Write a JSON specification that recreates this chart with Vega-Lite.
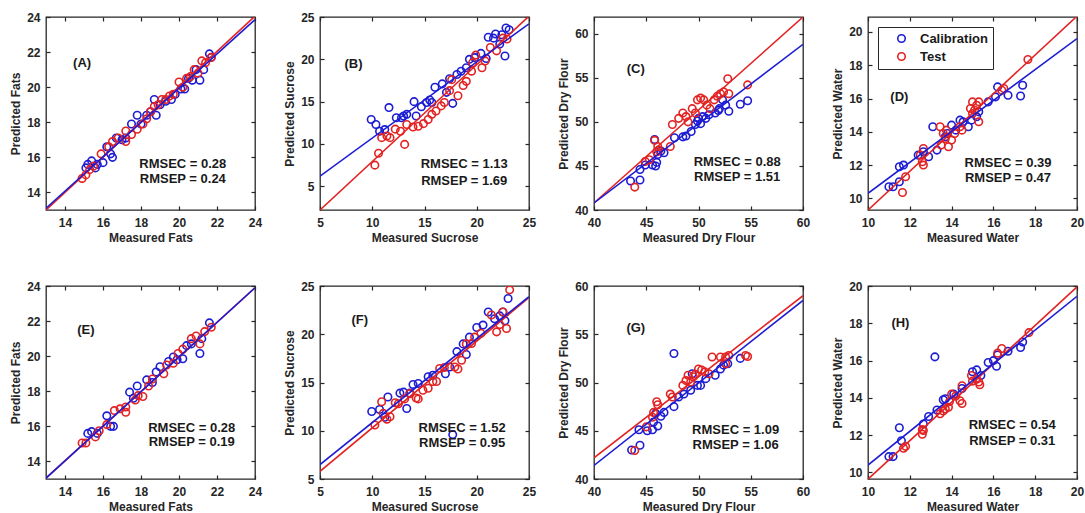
{
"$schema": "https://vega.github.io/schema/vega-lite/v6.json",
"background": "white",
"padding": {"left": 9, "top": 10, "right": 0, "bottom": 0},
"columns": 4,
"spacing": {"row": 76, "column": 65},
"bounds": "flush",
"resolve": {"scale": {"stroke": "independent", "color": "independent"}, "legend": {"stroke": "independent", "color": "independent"}},
"concat": [
{"width": 209, "height": 193, "resolve": {"axis": {"x": "independent", "y": "independent"}}, "layer": [
 {"data": {"name": "pts"}, "transform": [{"filter": "datum.p === 'A'"}], "mark": {"type": "point", "filled": false, "size": 56, "strokeWidth": 1.6, "opacity": 1, "clip": true},
  "encoding": {"x": {"field": "x", "type": "quantitative", "scale": {"domain": [13, 24], "nice": false, "zero": false}, "axis": {"title": "Measured Fats", "values": [14, 16, 18, 20, 22, 24]}},
   "y": {"field": "y", "type": "quantitative", "scale": {"domain": [13, 24], "nice": false, "zero": false}, "axis": {"title": "Predicted Fats", "values": [14, 16, 18, 20, 22, 24]}},
   "stroke": {"field": "s", "type": "nominal", "scale": {"domain": ["Calibration", "Test"], "range": ["#1c1cd4", "#e32222"]}, "legend": null}}},
 {"data": {"name": "lns"}, "transform": [{"filter": "datum.p === 'A'"}], "mark": {"type": "line", "strokeWidth": 1.6, "clip": true},
  "encoding": {"x": {"field": "x", "type": "quantitative", "axis": null}, "y": {"field": "y", "type": "quantitative", "axis": null},
   "color": {"field": "s", "type": "nominal", "scale": {"domain": ["Test", "Calibration"], "range": ["#e32222", "#1c1cd4"]}, "legend": null}}},
 {"data": {"name": "txt"}, "transform": [{"filter": "datum.p === 'A'"}], "mark": {"type": "text", "font": "Liberation Sans", "fontWeight": "bold", "fontSize": 13, "color": "#1a1a1a"},
  "encoding": {"x": {"field": "x", "type": "quantitative", "axis": {"orient": "top", "labels": false, "title": null, "values": [14, 16, 18, 20, 22, 24]}},
   "y": {"field": "y", "type": "quantitative", "axis": {"orient": "right", "labels": false, "title": null, "values": [14, 16, 18, 20, 22, 24]}},
   "text": {"field": "t"}}}
]},
{"width": 209, "height": 193, "resolve": {"axis": {"x": "independent", "y": "independent"}}, "layer": [
 {"data": {"name": "pts"}, "transform": [{"filter": "datum.p === 'B'"}], "mark": {"type": "point", "filled": false, "size": 56, "strokeWidth": 1.6, "opacity": 1, "clip": true},
  "encoding": {"x": {"field": "x", "type": "quantitative", "scale": {"domain": [5, 25], "nice": false, "zero": false}, "axis": {"title": "Measured Sucrose", "values": [5, 10, 15, 20, 25]}},
   "y": {"field": "y", "type": "quantitative", "scale": {"domain": [2.2, 25], "nice": false, "zero": false}, "axis": {"title": "Predicted  Sucrose", "values": [5, 10, 15, 20, 25]}},
   "stroke": {"field": "s", "type": "nominal", "scale": {"domain": ["Calibration", "Test"], "range": ["#1c1cd4", "#e32222"]}, "legend": null}}},
 {"data": {"name": "lns"}, "transform": [{"filter": "datum.p === 'B'"}], "mark": {"type": "line", "strokeWidth": 1.6, "clip": true},
  "encoding": {"x": {"field": "x", "type": "quantitative", "axis": null}, "y": {"field": "y", "type": "quantitative", "axis": null},
   "color": {"field": "s", "type": "nominal", "scale": {"domain": ["Test", "Calibration"], "range": ["#e32222", "#1c1cd4"]}, "legend": null}}},
 {"data": {"name": "txt"}, "transform": [{"filter": "datum.p === 'B'"}], "mark": {"type": "text", "font": "Liberation Sans", "fontWeight": "bold", "fontSize": 13, "color": "#1a1a1a"},
  "encoding": {"x": {"field": "x", "type": "quantitative", "axis": {"orient": "top", "labels": false, "title": null, "values": [5, 10, 15, 20, 25]}},
   "y": {"field": "y", "type": "quantitative", "axis": {"orient": "right", "labels": false, "title": null, "values": [5, 10, 15, 20, 25]}},
   "text": {"field": "t"}}}
]},
{"width": 209, "height": 193, "resolve": {"axis": {"x": "independent", "y": "independent"}}, "layer": [
 {"data": {"name": "pts"}, "transform": [{"filter": "datum.p === 'C'"}], "mark": {"type": "point", "filled": false, "size": 56, "strokeWidth": 1.6, "opacity": 1, "clip": true},
  "encoding": {"x": {"field": "x", "type": "quantitative", "scale": {"domain": [40, 60], "nice": false, "zero": false}, "axis": {"title": "Measured Dry Flour", "values": [40, 45, 50, 55, 60]}},
   "y": {"field": "y", "type": "quantitative", "scale": {"domain": [40, 61.9], "nice": false, "zero": false}, "axis": {"title": "Predicted Dry Flour", "values": [40, 45, 50, 55, 60]}},
   "stroke": {"field": "s", "type": "nominal", "scale": {"domain": ["Calibration", "Test"], "range": ["#1c1cd4", "#e32222"]}, "legend": null}}},
 {"data": {"name": "lns"}, "transform": [{"filter": "datum.p === 'C'"}], "mark": {"type": "line", "strokeWidth": 1.6, "clip": true},
  "encoding": {"x": {"field": "x", "type": "quantitative", "axis": null}, "y": {"field": "y", "type": "quantitative", "axis": null},
   "color": {"field": "s", "type": "nominal", "scale": {"domain": ["Test", "Calibration"], "range": ["#e32222", "#1c1cd4"]}, "legend": null}}},
 {"data": {"name": "txt"}, "transform": [{"filter": "datum.p === 'C'"}], "mark": {"type": "text", "font": "Liberation Sans", "fontWeight": "bold", "fontSize": 13, "color": "#1a1a1a"},
  "encoding": {"x": {"field": "x", "type": "quantitative", "axis": {"orient": "top", "labels": false, "title": null, "values": [40, 45, 50, 55, 60]}},
   "y": {"field": "y", "type": "quantitative", "axis": {"orient": "right", "labels": false, "title": null, "values": [40, 45, 50, 55, 60]}},
   "text": {"field": "t"}}}
]},
{"width": 209, "height": 193, "resolve": {"axis": {"x": "independent", "y": "independent"}}, "layer": [
 {"data": {"name": "pts"}, "transform": [{"filter": "datum.p === 'D'"}], "mark": {"type": "point", "filled": false, "size": 56, "strokeWidth": 1.6, "opacity": 1, "clip": true},
  "encoding": {"x": {"field": "x", "type": "quantitative", "scale": {"domain": [10, 20], "nice": false, "zero": false}, "axis": {"title": "Measured Water", "values": [10, 12, 14, 16, 18, 20]}},
   "y": {"field": "y", "type": "quantitative", "scale": {"domain": [9.3, 20.9], "nice": false, "zero": false}, "axis": {"title": "Predicted Water", "values": [10, 12, 14, 16, 18, 20]}},
   "stroke": {"field": "s", "type": "nominal", "scale": {"domain": ["Calibration", "Test"], "range": ["#1c1cd4", "#e32222"]},
    "legend": {"title": null, "orient": "top-left", "offset": 10, "padding": 5, "strokeColor": "#262626", "fillColor": "white", "labelFont": "Liberation Sans", "labelFontWeight": "bold", "labelFontSize": 13, "labelColor": "#1a1a1a", "symbolSize": 56, "symbolStrokeWidth": 1.6, "symbolOffset": 12, "labelOffset": 12, "rowPadding": 3}}}},
 {"data": {"name": "lns"}, "transform": [{"filter": "datum.p === 'D'"}], "mark": {"type": "line", "strokeWidth": 1.6, "clip": true},
  "encoding": {"x": {"field": "x", "type": "quantitative", "axis": null}, "y": {"field": "y", "type": "quantitative", "axis": null},
   "color": {"field": "s", "type": "nominal", "scale": {"domain": ["Test", "Calibration"], "range": ["#e32222", "#1c1cd4"]}, "legend": null}}},
 {"data": {"name": "txt"}, "transform": [{"filter": "datum.p === 'D'"}], "mark": {"type": "text", "font": "Liberation Sans", "fontWeight": "bold", "fontSize": 13, "color": "#1a1a1a"},
  "encoding": {"x": {"field": "x", "type": "quantitative", "axis": {"orient": "top", "labels": false, "title": null, "values": [10, 12, 14, 16, 18, 20]}},
   "y": {"field": "y", "type": "quantitative", "axis": {"orient": "right", "labels": false, "title": null, "values": [10, 12, 14, 16, 18, 20]}},
   "text": {"field": "t"}}}
]},
{"width": 209, "height": 193, "resolve": {"axis": {"x": "independent", "y": "independent"}}, "layer": [
 {"data": {"name": "pts"}, "transform": [{"filter": "datum.p === 'E'"}], "mark": {"type": "point", "filled": false, "size": 56, "strokeWidth": 1.6, "opacity": 1, "clip": true},
  "encoding": {"x": {"field": "x", "type": "quantitative", "scale": {"domain": [13, 24], "nice": false, "zero": false}, "axis": {"title": "Measured Fats", "values": [14, 16, 18, 20, 22, 24]}},
   "y": {"field": "y", "type": "quantitative", "scale": {"domain": [13, 24], "nice": false, "zero": false}, "axis": {"title": "Predicted Fats", "values": [14, 16, 18, 20, 22, 24]}},
   "stroke": {"field": "s", "type": "nominal", "scale": {"domain": ["Calibration", "Test"], "range": ["#1c1cd4", "#e32222"]}, "legend": null}}},
 {"data": {"name": "lns"}, "transform": [{"filter": "datum.p === 'E'"}], "mark": {"type": "line", "strokeWidth": 1.6, "clip": true},
  "encoding": {"x": {"field": "x", "type": "quantitative", "axis": null}, "y": {"field": "y", "type": "quantitative", "axis": null},
   "color": {"field": "s", "type": "nominal", "scale": {"domain": ["Test", "Calibration"], "range": ["#e32222", "#1c1cd4"]}, "legend": null}}},
 {"data": {"name": "txt"}, "transform": [{"filter": "datum.p === 'E'"}], "mark": {"type": "text", "font": "Liberation Sans", "fontWeight": "bold", "fontSize": 13, "color": "#1a1a1a"},
  "encoding": {"x": {"field": "x", "type": "quantitative", "axis": {"orient": "top", "labels": false, "title": null, "values": [14, 16, 18, 20, 22, 24]}},
   "y": {"field": "y", "type": "quantitative", "axis": {"orient": "right", "labels": false, "title": null, "values": [14, 16, 18, 20, 22, 24]}},
   "text": {"field": "t"}}}
]},
{"width": 209, "height": 193, "resolve": {"axis": {"x": "independent", "y": "independent"}}, "layer": [
 {"data": {"name": "pts"}, "transform": [{"filter": "datum.p === 'F'"}], "mark": {"type": "point", "filled": false, "size": 56, "strokeWidth": 1.6, "opacity": 1, "clip": true},
  "encoding": {"x": {"field": "x", "type": "quantitative", "scale": {"domain": [5, 25], "nice": false, "zero": false}, "axis": {"title": "Measured Sucrose", "values": [5, 10, 15, 20, 25]}},
   "y": {"field": "y", "type": "quantitative", "scale": {"domain": [5, 25], "nice": false, "zero": false}, "axis": {"title": "Predicted  Sucrose", "values": [5, 10, 15, 20, 25]}},
   "stroke": {"field": "s", "type": "nominal", "scale": {"domain": ["Calibration", "Test"], "range": ["#1c1cd4", "#e32222"]}, "legend": null}}},
 {"data": {"name": "lns"}, "transform": [{"filter": "datum.p === 'F'"}], "mark": {"type": "line", "strokeWidth": 1.6, "clip": true},
  "encoding": {"x": {"field": "x", "type": "quantitative", "axis": null}, "y": {"field": "y", "type": "quantitative", "axis": null},
   "color": {"field": "s", "type": "nominal", "scale": {"domain": ["Test", "Calibration"], "range": ["#e32222", "#1c1cd4"]}, "legend": null}}},
 {"data": {"name": "txt"}, "transform": [{"filter": "datum.p === 'F'"}], "mark": {"type": "text", "font": "Liberation Sans", "fontWeight": "bold", "fontSize": 13, "color": "#1a1a1a"},
  "encoding": {"x": {"field": "x", "type": "quantitative", "axis": {"orient": "top", "labels": false, "title": null, "values": [5, 10, 15, 20, 25]}},
   "y": {"field": "y", "type": "quantitative", "axis": {"orient": "right", "labels": false, "title": null, "values": [5, 10, 15, 20, 25]}},
   "text": {"field": "t"}}}
]},
{"width": 209, "height": 193, "resolve": {"axis": {"x": "independent", "y": "independent"}}, "layer": [
 {"data": {"name": "pts"}, "transform": [{"filter": "datum.p === 'G'"}], "mark": {"type": "point", "filled": false, "size": 56, "strokeWidth": 1.6, "opacity": 1, "clip": true},
  "encoding": {"x": {"field": "x", "type": "quantitative", "scale": {"domain": [40, 60], "nice": false, "zero": false}, "axis": {"title": "Measured Dry Flour", "values": [40, 45, 50, 55, 60]}},
   "y": {"field": "y", "type": "quantitative", "scale": {"domain": [40, 60], "nice": false, "zero": false}, "axis": {"title": "Predicted Dry Flour", "values": [40, 45, 50, 55, 60]}},
   "stroke": {"field": "s", "type": "nominal", "scale": {"domain": ["Calibration", "Test"], "range": ["#1c1cd4", "#e32222"]}, "legend": null}}},
 {"data": {"name": "lns"}, "transform": [{"filter": "datum.p === 'G'"}], "mark": {"type": "line", "strokeWidth": 1.6, "clip": true},
  "encoding": {"x": {"field": "x", "type": "quantitative", "axis": null}, "y": {"field": "y", "type": "quantitative", "axis": null},
   "color": {"field": "s", "type": "nominal", "scale": {"domain": ["Test", "Calibration"], "range": ["#e32222", "#1c1cd4"]}, "legend": null}}},
 {"data": {"name": "txt"}, "transform": [{"filter": "datum.p === 'G'"}], "mark": {"type": "text", "font": "Liberation Sans", "fontWeight": "bold", "fontSize": 13, "color": "#1a1a1a"},
  "encoding": {"x": {"field": "x", "type": "quantitative", "axis": {"orient": "top", "labels": false, "title": null, "values": [40, 45, 50, 55, 60]}},
   "y": {"field": "y", "type": "quantitative", "axis": {"orient": "right", "labels": false, "title": null, "values": [40, 45, 50, 55, 60]}},
   "text": {"field": "t"}}}
]},
{"width": 209, "height": 193, "resolve": {"axis": {"x": "independent", "y": "independent"}}, "layer": [
 {"data": {"name": "pts"}, "transform": [{"filter": "datum.p === 'H'"}], "mark": {"type": "point", "filled": false, "size": 56, "strokeWidth": 1.6, "opacity": 1, "clip": true},
  "encoding": {"x": {"field": "x", "type": "quantitative", "scale": {"domain": [10, 20], "nice": false, "zero": false}, "axis": {"title": "Measured Water", "values": [10, 12, 14, 16, 18, 20]}},
   "y": {"field": "y", "type": "quantitative", "scale": {"domain": [9.65, 20], "nice": false, "zero": false}, "axis": {"title": "Predicted Water", "values": [10, 12, 14, 16, 18, 20]}},
   "stroke": {"field": "s", "type": "nominal", "scale": {"domain": ["Calibration", "Test"], "range": ["#1c1cd4", "#e32222"]}, "legend": null}}},
 {"data": {"name": "lns"}, "transform": [{"filter": "datum.p === 'H'"}], "mark": {"type": "line", "strokeWidth": 1.6, "clip": true},
  "encoding": {"x": {"field": "x", "type": "quantitative", "axis": null}, "y": {"field": "y", "type": "quantitative", "axis": null},
   "color": {"field": "s", "type": "nominal", "scale": {"domain": ["Test", "Calibration"], "range": ["#e32222", "#1c1cd4"]}, "legend": null}}},
 {"data": {"name": "txt"}, "transform": [{"filter": "datum.p === 'H'"}], "mark": {"type": "text", "font": "Liberation Sans", "fontWeight": "bold", "fontSize": 13, "color": "#1a1a1a"},
  "encoding": {"x": {"field": "x", "type": "quantitative", "axis": {"orient": "top", "labels": false, "title": null, "values": [10, 12, 14, 16, 18, 20]}},
   "y": {"field": "y", "type": "quantitative", "axis": {"orient": "right", "labels": false, "title": null, "values": [10, 12, 14, 16, 18, 20]}},
   "text": {"field": "t"}}}
]}
],
"datasets": {
"lns": [
{"p":"A","s":"Test","x":13,"y":13.0},{"p":"A","s":"Test","x":24,"y":24.05},{"p":"A","s":"Calibration","x":13,"y":13.1},{"p":"A","s":"Calibration","x":24,"y":23.85},
{"p":"B","s":"Test","x":5,"y":2.2},{"p":"B","s":"Test","x":25,"y":25.1},{"p":"B","s":"Calibration","x":5,"y":6.2},{"p":"B","s":"Calibration","x":25,"y":24.2},
{"p":"C","s":"Test","x":40,"y":40.8},{"p":"C","s":"Test","x":60,"y":61.9},{"p":"C","s":"Calibration","x":40,"y":40.8},{"p":"C","s":"Calibration","x":60,"y":58.8},
{"p":"D","s":"Test","x":10,"y":9.3},{"p":"D","s":"Test","x":20,"y":20.95},{"p":"D","s":"Calibration","x":10,"y":10.3},{"p":"D","s":"Calibration","x":20,"y":19.6},
{"p":"E","s":"Test","x":13,"y":13.05},{"p":"E","s":"Test","x":24,"y":23.9},{"p":"E","s":"Calibration","x":13,"y":13.05},{"p":"E","s":"Calibration","x":24,"y":23.9},
{"p":"F","s":"Test","x":5,"y":5.8},{"p":"F","s":"Test","x":25,"y":23.8},{"p":"F","s":"Calibration","x":5,"y":6.5},{"p":"F","s":"Calibration","x":25,"y":23.9},
{"p":"G","s":"Test","x":40,"y":42.2},{"p":"G","s":"Test","x":60,"y":59.0},{"p":"G","s":"Calibration","x":40,"y":41.4},{"p":"G","s":"Calibration","x":60,"y":58.5},
{"p":"H","s":"Test","x":10,"y":9.64},{"p":"H","s":"Test","x":20,"y":19.95},{"p":"H","s":"Calibration","x":10,"y":10.4},{"p":"H","s":"Calibration","x":20,"y":19.45}
],
"txt": [
{"p":"A","x":14.9,"y":21.4,"t":"(A)"},{"p":"A","x":20.2,"y":15.6,"t":"RMSEC = 0.28"},{"p":"A","x":20.2,"y":14.75,"t":"RMSEP = 0.24"},
{"p":"B","x":8.2,"y":19.5,"t":"(B)"},{"p":"B","x":18.8,"y":7.6,"t":"RMSEC = 1.13"},{"p":"B","x":18.8,"y":5.6,"t":"RMSEP = 1.69"},
{"p":"C","x":44.0,"y":56.05,"t":"(C)"},{"p":"C","x":53.7,"y":45.5,"t":"RMSEC = 0.88"},{"p":"C","x":53.7,"y":43.8,"t":"RMSEP = 1.51"},
{"p":"D","x":11.5,"y":16.1,"t":"(D)"},{"p":"D","x":16.7,"y":12.1,"t":"RMSEC = 0.39"},{"p":"D","x":16.7,"y":11.25,"t":"RMSEP = 0.47"},
{"p":"E","x":15.1,"y":21.5,"t":"(E)"},{"p":"E","x":20.67,"y":15.9,"t":"RMSEC = 0.28"},{"p":"E","x":20.67,"y":15.1,"t":"RMSEP = 0.19"},
{"p":"F","x":8.8,"y":21.5,"t":"(F)"},{"p":"F","x":18.6,"y":10.3,"t":"RMSEC = 1.52"},{"p":"F","x":18.6,"y":8.7,"t":"RMSEP = 0.95"},
{"p":"G","x":44.0,"y":55.6,"t":"(G)"},{"p":"G","x":53.55,"y":45.1,"t":"RMSEC = 1.09"},{"p":"G","x":53.55,"y":43.5,"t":"RMSEP = 1.06"},
{"p":"H","x":11.55,"y":18.0,"t":"(H)"},{"p":"H","x":16.9,"y":12.55,"t":"RMSEC = 0.54"},{"p":"H","x":16.9,"y":11.7,"t":"RMSEP = 0.31"}
],
"pts": [
{"p":"A","s":"Calibration","x":15.1,"y":15.4},{"p":"A","s":"Calibration","x":15.2,"y":15.6},{"p":"A","s":"Calibration","x":15.4,"y":15.8},{"p":"A","s":"Calibration","x":15.6,"y":15.4},{"p":"A","s":"Calibration","x":15.7,"y":15.6},{"p":"A","s":"Calibration","x":16.0,"y":15.7},{"p":"A","s":"Calibration","x":16.2,"y":16.6},{"p":"A","s":"Calibration","x":16.4,"y":16.2},{"p":"A","s":"Calibration","x":16.5,"y":16.0},{"p":"A","s":"Calibration","x":16.7,"y":17.1},{"p":"A","s":"Calibration","x":17.0,"y":17.0},{"p":"A","s":"Calibration","x":17.2,"y":17.1},{"p":"A","s":"Calibration","x":17.5,"y":17.9},{"p":"A","s":"Calibration","x":17.8,"y":18.4},{"p":"A","s":"Calibration","x":18.0,"y":17.9},{"p":"A","s":"Calibration","x":18.3,"y":18.4},{"p":"A","s":"Calibration","x":18.5,"y":18.6},{"p":"A","s":"Calibration","x":18.7,"y":19.3},{"p":"A","s":"Calibration","x":18.8,"y":18.4},{"p":"A","s":"Calibration","x":19.0,"y":19.0},{"p":"A","s":"Calibration","x":19.3,"y":19.2},{"p":"A","s":"Calibration","x":19.6,"y":19.3},{"p":"A","s":"Calibration","x":19.8,"y":19.6},{"p":"A","s":"Calibration","x":20.1,"y":19.9},{"p":"A","s":"Calibration","x":20.3,"y":19.9},{"p":"A","s":"Calibration","x":20.5,"y":20.5},{"p":"A","s":"Calibration","x":20.7,"y":20.4},{"p":"A","s":"Calibration","x":20.9,"y":21.0},{"p":"A","s":"Calibration","x":21.1,"y":20.4},{"p":"A","s":"Calibration","x":21.3,"y":21.0},{"p":"A","s":"Calibration","x":21.6,"y":21.9},{"p":"A","s":"Calibration","x":21.7,"y":21.7},
{"p":"A","s":"Test","x":14.9,"y":14.8},{"p":"A","s":"Test","x":15.1,"y":15.0},{"p":"A","s":"Test","x":15.3,"y":15.3},{"p":"A","s":"Test","x":15.5,"y":15.5},{"p":"A","s":"Test","x":15.9,"y":16.2},{"p":"A","s":"Test","x":16.3,"y":16.6},{"p":"A","s":"Test","x":16.5,"y":16.9},{"p":"A","s":"Test","x":16.8,"y":17.1},{"p":"A","s":"Test","x":17.2,"y":16.9},{"p":"A","s":"Test","x":17.2,"y":17.5},{"p":"A","s":"Test","x":17.5,"y":17.3},{"p":"A","s":"Test","x":17.8,"y":17.6},{"p":"A","s":"Test","x":18.1,"y":17.9},{"p":"A","s":"Test","x":18.3,"y":18.2},{"p":"A","s":"Test","x":18.5,"y":18.6},{"p":"A","s":"Test","x":18.7,"y":18.9},{"p":"A","s":"Test","x":18.9,"y":19.0},{"p":"A","s":"Test","x":19.1,"y":19.3},{"p":"A","s":"Test","x":19.3,"y":19.3},{"p":"A","s":"Test","x":19.5,"y":19.5},{"p":"A","s":"Test","x":19.7,"y":19.6},{"p":"A","s":"Test","x":20.0,"y":20.3},{"p":"A","s":"Test","x":20.2,"y":20.0},{"p":"A","s":"Test","x":20.4,"y":20.5},{"p":"A","s":"Test","x":20.6,"y":20.6},{"p":"A","s":"Test","x":20.8,"y":21.0},{"p":"A","s":"Test","x":21.0,"y":20.8},{"p":"A","s":"Test","x":21.2,"y":21.5},{"p":"A","s":"Test","x":21.4,"y":21.4},{"p":"A","s":"Test","x":21.7,"y":21.7},
{"p":"B","s":"Calibration","x":9.9,"y":12.9},{"p":"B","s":"Calibration","x":10.35,"y":12.3},{"p":"B","s":"Calibration","x":10.7,"y":11.5},{"p":"B","s":"Calibration","x":11.2,"y":11.7},{"p":"B","s":"Calibration","x":11.6,"y":14.3},{"p":"B","s":"Calibration","x":12.3,"y":13.1},{"p":"B","s":"Calibration","x":12.8,"y":13.1},{"p":"B","s":"Calibration","x":13.0,"y":13.3},{"p":"B","s":"Calibration","x":13.3,"y":13.5},{"p":"B","s":"Calibration","x":14.0,"y":15.0},{"p":"B","s":"Calibration","x":14.2,"y":13.3},{"p":"B","s":"Calibration","x":14.7,"y":14.4},{"p":"B","s":"Calibration","x":15.2,"y":14.9},{"p":"B","s":"Calibration","x":15.5,"y":15.2},{"p":"B","s":"Calibration","x":15.7,"y":14.9},{"p":"B","s":"Calibration","x":16.0,"y":16.7},{"p":"B","s":"Calibration","x":16.7,"y":17.1},{"p":"B","s":"Calibration","x":17.1,"y":16.1},{"p":"B","s":"Calibration","x":17.4,"y":17.7},{"p":"B","s":"Calibration","x":17.7,"y":14.8},{"p":"B","s":"Calibration","x":18.1,"y":18.2},{"p":"B","s":"Calibration","x":18.5,"y":18.6},{"p":"B","s":"Calibration","x":19.0,"y":19.0},{"p":"B","s":"Calibration","x":19.3,"y":20.0},{"p":"B","s":"Calibration","x":19.8,"y":20.2},{"p":"B","s":"Calibration","x":20.4,"y":20.7},{"p":"B","s":"Calibration","x":20.9,"y":20.1},{"p":"B","s":"Calibration","x":21.1,"y":22.6},{"p":"B","s":"Calibration","x":21.6,"y":22.5},{"p":"B","s":"Calibration","x":21.8,"y":23.0},{"p":"B","s":"Calibration","x":22.2,"y":21.8},{"p":"B","s":"Calibration","x":22.4,"y":22.9},{"p":"B","s":"Calibration","x":22.7,"y":20.4},{"p":"B","s":"Calibration","x":22.8,"y":23.7},{"p":"B","s":"Calibration","x":23.1,"y":23.5},
{"p":"B","s":"Test","x":10.25,"y":7.5},{"p":"B","s":"Test","x":10.6,"y":8.9},{"p":"B","s":"Test","x":10.9,"y":10.75},{"p":"B","s":"Test","x":11.4,"y":10.95},{"p":"B","s":"Test","x":11.7,"y":10.75},{"p":"B","s":"Test","x":12.2,"y":11.75},{"p":"B","s":"Test","x":12.7,"y":11.5},{"p":"B","s":"Test","x":13.1,"y":9.95},{"p":"B","s":"Test","x":13.3,"y":12.3},{"p":"B","s":"Test","x":13.9,"y":12.0},{"p":"B","s":"Test","x":14.4,"y":12.1},{"p":"B","s":"Test","x":14.9,"y":12.4},{"p":"B","s":"Test","x":15.35,"y":12.9},{"p":"B","s":"Test","x":15.7,"y":13.5},{"p":"B","s":"Test","x":16.1,"y":13.9},{"p":"B","s":"Test","x":16.6,"y":14.5},{"p":"B","s":"Test","x":16.9,"y":14.9},{"p":"B","s":"Test","x":17.4,"y":16.3},{"p":"B","s":"Test","x":17.6,"y":17.6},{"p":"B","s":"Test","x":18.2,"y":15.7},{"p":"B","s":"Test","x":18.7,"y":16.9},{"p":"B","s":"Test","x":19.0,"y":17.4},{"p":"B","s":"Test","x":19.5,"y":18.6},{"p":"B","s":"Test","x":19.6,"y":19.6},{"p":"B","s":"Test","x":19.9,"y":20.5},{"p":"B","s":"Test","x":20.5,"y":19.0},{"p":"B","s":"Test","x":20.8,"y":19.8},{"p":"B","s":"Test","x":21.3,"y":21.4},{"p":"B","s":"Test","x":21.9,"y":21.0},{"p":"B","s":"Test","x":22.5,"y":22.5},{"p":"B","s":"Test","x":22.9,"y":22.4},
{"p":"C","s":"Calibration","x":43.5,"y":43.3},{"p":"C","s":"Calibration","x":44.4,"y":43.4},{"p":"C","s":"Calibration","x":44.4,"y":44.6},{"p":"C","s":"Calibration","x":44.9,"y":45.1},{"p":"C","s":"Calibration","x":45.6,"y":45.1},{"p":"C","s":"Calibration","x":45.9,"y":45.0},{"p":"C","s":"Calibration","x":46.0,"y":45.4},{"p":"C","s":"Calibration","x":46.1,"y":46.3},{"p":"C","s":"Calibration","x":46.4,"y":46.7},{"p":"C","s":"Calibration","x":46.7,"y":46.5},{"p":"C","s":"Calibration","x":45.8,"y":48.0},{"p":"C","s":"Calibration","x":47.7,"y":48.2},{"p":"C","s":"Calibration","x":48.5,"y":48.3},{"p":"C","s":"Calibration","x":48.8,"y":48.4},{"p":"C","s":"Calibration","x":49.3,"y":48.9},{"p":"C","s":"Calibration","x":49.7,"y":49.7},{"p":"C","s":"Calibration","x":49.9,"y":50.1},{"p":"C","s":"Calibration","x":50.0,"y":50.4},{"p":"C","s":"Calibration","x":50.2,"y":49.8},{"p":"C","s":"Calibration","x":50.4,"y":50.6},{"p":"C","s":"Calibration","x":50.7,"y":50.4},{"p":"C","s":"Calibration","x":51.0,"y":50.8},{"p":"C","s":"Calibration","x":51.6,"y":51.0},{"p":"C","s":"Calibration","x":51.9,"y":51.3},{"p":"C","s":"Calibration","x":52.0,"y":51.5},{"p":"C","s":"Calibration","x":52.3,"y":52.5},{"p":"C","s":"Calibration","x":52.6,"y":51.9},{"p":"C","s":"Calibration","x":52.9,"y":51.2},{"p":"C","s":"Calibration","x":54.0,"y":52.0},{"p":"C","s":"Calibration","x":54.7,"y":52.4},
{"p":"C","s":"Test","x":43.9,"y":42.6},{"p":"C","s":"Test","x":44.9,"y":45.5},{"p":"C","s":"Test","x":45.3,"y":45.7},{"p":"C","s":"Test","x":45.8,"y":47.9},{"p":"C","s":"Test","x":46.1,"y":47.2},{"p":"C","s":"Test","x":46.2,"y":46.8},{"p":"C","s":"Test","x":46.0,"y":46.6},{"p":"C","s":"Test","x":47.3,"y":47.2},{"p":"C","s":"Test","x":47.5,"y":49.7},{"p":"C","s":"Test","x":48.1,"y":50.4},{"p":"C","s":"Test","x":48.5,"y":51.0},{"p":"C","s":"Test","x":48.8,"y":50.6},{"p":"C","s":"Test","x":49.0,"y":50.0},{"p":"C","s":"Test","x":49.4,"y":51.5},{"p":"C","s":"Test","x":49.7,"y":51.0},{"p":"C","s":"Test","x":49.9,"y":52.5},{"p":"C","s":"Test","x":50.2,"y":52.7},{"p":"C","s":"Test","x":50.5,"y":52.5},{"p":"C","s":"Test","x":50.8,"y":51.9},{"p":"C","s":"Test","x":51.1,"y":51.5},{"p":"C","s":"Test","x":51.5,"y":52.5},{"p":"C","s":"Test","x":51.8,"y":52.9},{"p":"C","s":"Test","x":52.1,"y":53.2},{"p":"C","s":"Test","x":52.4,"y":53.4},{"p":"C","s":"Test","x":52.8,"y":54.9},{"p":"C","s":"Test","x":52.9,"y":53.2},{"p":"C","s":"Test","x":54.7,"y":54.2},
{"p":"D","s":"Calibration","x":11.0,"y":10.7},{"p":"D","s":"Calibration","x":11.2,"y":10.7},{"p":"D","s":"Calibration","x":11.5,"y":11.0},{"p":"D","s":"Calibration","x":11.5,"y":11.9},{"p":"D","s":"Calibration","x":11.7,"y":12.0},{"p":"D","s":"Calibration","x":12.4,"y":12.6},{"p":"D","s":"Calibration","x":12.65,"y":12.8},{"p":"D","s":"Calibration","x":12.9,"y":12.5},{"p":"D","s":"Calibration","x":13.1,"y":14.3},{"p":"D","s":"Calibration","x":13.3,"y":12.9},{"p":"D","s":"Calibration","x":13.7,"y":13.7},{"p":"D","s":"Calibration","x":13.8,"y":13.9},{"p":"D","s":"Calibration","x":14.0,"y":14.4},{"p":"D","s":"Calibration","x":14.2,"y":14.1},{"p":"D","s":"Calibration","x":14.4,"y":14.7},{"p":"D","s":"Calibration","x":14.55,"y":14.6},{"p":"D","s":"Calibration","x":14.8,"y":14.3},{"p":"D","s":"Calibration","x":14.95,"y":14.7},{"p":"D","s":"Calibration","x":15.2,"y":14.9},{"p":"D","s":"Calibration","x":15.3,"y":15.2},{"p":"D","s":"Calibration","x":15.75,"y":15.8},{"p":"D","s":"Calibration","x":16.1,"y":16.1},{"p":"D","s":"Calibration","x":16.2,"y":16.7},{"p":"D","s":"Calibration","x":16.7,"y":16.2},{"p":"D","s":"Calibration","x":17.3,"y":16.15},{"p":"D","s":"Calibration","x":17.4,"y":16.8},
{"p":"D","s":"Test","x":11.65,"y":10.35},{"p":"D","s":"Test","x":11.8,"y":11.3},{"p":"D","s":"Test","x":12.5,"y":12.6},{"p":"D","s":"Test","x":12.6,"y":12.2},{"p":"D","s":"Test","x":12.65,"y":12.0},{"p":"D","s":"Test","x":12.65,"y":13.0},{"p":"D","s":"Test","x":13.45,"y":14.3},{"p":"D","s":"Test","x":13.5,"y":13.2},{"p":"D","s":"Test","x":13.6,"y":13.9},{"p":"D","s":"Test","x":13.7,"y":13.6},{"p":"D","s":"Test","x":13.75,"y":14.1},{"p":"D","s":"Test","x":13.85,"y":13.1},{"p":"D","s":"Test","x":14.0,"y":13.5},{"p":"D","s":"Test","x":14.15,"y":13.9},{"p":"D","s":"Test","x":14.4,"y":14.3},{"p":"D","s":"Test","x":14.5,"y":14.1},{"p":"D","s":"Test","x":14.9,"y":15.4},{"p":"D","s":"Test","x":15.0,"y":15.8},{"p":"D","s":"Test","x":15.0,"y":15.1},{"p":"D","s":"Test","x":15.1,"y":15.3},{"p":"D","s":"Test","x":15.2,"y":15.6},{"p":"D","s":"Test","x":15.3,"y":15.8},{"p":"D","s":"Test","x":15.3,"y":14.6},{"p":"D","s":"Test","x":16.4,"y":16.5},{"p":"D","s":"Test","x":16.5,"y":16.6},{"p":"D","s":"Test","x":17.65,"y":18.35},
{"p":"E","s":"Calibration","x":15.2,"y":15.6},{"p":"E","s":"Calibration","x":15.4,"y":15.7},{"p":"E","s":"Calibration","x":15.7,"y":15.6},{"p":"E","s":"Calibration","x":16.2,"y":16.6},{"p":"E","s":"Calibration","x":16.4,"y":16.0},{"p":"E","s":"Calibration","x":16.55,"y":16.0},{"p":"E","s":"Calibration","x":17.4,"y":17.95},{"p":"E","s":"Calibration","x":17.6,"y":17.6},{"p":"E","s":"Calibration","x":17.8,"y":18.3},{"p":"E","s":"Calibration","x":18.3,"y":18.65},{"p":"E","s":"Calibration","x":18.6,"y":18.5},{"p":"E","s":"Calibration","x":18.8,"y":19.1},{"p":"E","s":"Calibration","x":19.0,"y":19.4},{"p":"E","s":"Calibration","x":19.45,"y":19.7},{"p":"E","s":"Calibration","x":19.7,"y":19.95},{"p":"E","s":"Calibration","x":19.9,"y":19.8},{"p":"E","s":"Calibration","x":20.2,"y":19.85},{"p":"E","s":"Calibration","x":20.4,"y":20.6},{"p":"E","s":"Calibration","x":20.65,"y":20.7},{"p":"E","s":"Calibration","x":21.1,"y":20.15},{"p":"E","s":"Calibration","x":21.2,"y":21.0},{"p":"E","s":"Calibration","x":21.6,"y":21.9},
{"p":"E","s":"Test","x":14.9,"y":15.05},{"p":"E","s":"Test","x":15.1,"y":15.05},{"p":"E","s":"Test","x":15.6,"y":15.4},{"p":"E","s":"Test","x":15.8,"y":15.75},{"p":"E","s":"Test","x":16.2,"y":16.1},{"p":"E","s":"Test","x":16.6,"y":16.9},{"p":"E","s":"Test","x":16.9,"y":17.0},{"p":"E","s":"Test","x":17.2,"y":16.8},{"p":"E","s":"Test","x":17.2,"y":17.1},{"p":"E","s":"Test","x":17.7,"y":17.5},{"p":"E","s":"Test","x":17.85,"y":17.75},{"p":"E","s":"Test","x":18.1,"y":17.7},{"p":"E","s":"Test","x":18.4,"y":18.3},{"p":"E","s":"Test","x":18.6,"y":18.7},{"p":"E","s":"Test","x":19.2,"y":19.0},{"p":"E","s":"Test","x":19.35,"y":19.5},{"p":"E","s":"Test","x":19.7,"y":19.6},{"p":"E","s":"Test","x":19.95,"y":20.15},{"p":"E","s":"Test","x":20.2,"y":20.4},{"p":"E","s":"Test","x":20.65,"y":21.0},{"p":"E","s":"Test","x":20.9,"y":21.15},{"p":"E","s":"Test","x":21.1,"y":20.7},{"p":"E","s":"Test","x":21.35,"y":21.4},{"p":"E","s":"Test","x":21.7,"y":21.65},
{"p":"F","s":"Calibration","x":9.95,"y":12.0},{"p":"F","s":"Calibration","x":10.7,"y":12.2},{"p":"F","s":"Calibration","x":11.2,"y":11.4},{"p":"F","s":"Calibration","x":11.5,"y":13.5},{"p":"F","s":"Calibration","x":12.65,"y":13.9},{"p":"F","s":"Calibration","x":13.0,"y":14.0},{"p":"F","s":"Calibration","x":13.3,"y":12.3},{"p":"F","s":"Calibration","x":13.6,"y":13.9},{"p":"F","s":"Calibration","x":13.9,"y":14.8},{"p":"F","s":"Calibration","x":14.4,"y":14.9},{"p":"F","s":"Calibration","x":15.35,"y":15.6},{"p":"F","s":"Calibration","x":15.8,"y":15.75},{"p":"F","s":"Calibration","x":17.0,"y":15.9},{"p":"F","s":"Calibration","x":17.4,"y":16.6},{"p":"F","s":"Calibration","x":17.7,"y":9.6},{"p":"F","s":"Calibration","x":18.1,"y":18.2},{"p":"F","s":"Calibration","x":18.7,"y":19.0},{"p":"F","s":"Calibration","x":19.0,"y":17.9},{"p":"F","s":"Calibration","x":19.3,"y":19.7},{"p":"F","s":"Calibration","x":20.0,"y":20.7},{"p":"F","s":"Calibration","x":20.6,"y":20.95},{"p":"F","s":"Calibration","x":21.1,"y":22.3},{"p":"F","s":"Calibration","x":21.7,"y":21.6},{"p":"F","s":"Calibration","x":22.2,"y":21.9},{"p":"F","s":"Calibration","x":22.5,"y":22.3},{"p":"F","s":"Calibration","x":22.7,"y":21.4},{"p":"F","s":"Calibration","x":23.0,"y":23.7},
{"p":"F","s":"Test","x":10.25,"y":10.6},{"p":"F","s":"Test","x":10.9,"y":13.0},{"p":"F","s":"Test","x":11.05,"y":11.8},{"p":"F","s":"Test","x":11.4,"y":11.2},{"p":"F","s":"Test","x":11.7,"y":11.45},{"p":"F","s":"Test","x":12.2,"y":12.9},{"p":"F","s":"Test","x":12.5,"y":12.8},{"p":"F","s":"Test","x":13.1,"y":13.3},{"p":"F","s":"Test","x":13.6,"y":13.85},{"p":"F","s":"Test","x":14.2,"y":13.4},{"p":"F","s":"Test","x":14.4,"y":13.3},{"p":"F","s":"Test","x":14.85,"y":14.2},{"p":"F","s":"Test","x":15.35,"y":14.4},{"p":"F","s":"Test","x":15.8,"y":15.1},{"p":"F","s":"Test","x":16.15,"y":15.1},{"p":"F","s":"Test","x":16.45,"y":16.45},{"p":"F","s":"Test","x":16.9,"y":16.55},{"p":"F","s":"Test","x":17.9,"y":16.6},{"p":"F","s":"Test","x":18.2,"y":16.4},{"p":"F","s":"Test","x":18.55,"y":17.3},{"p":"F","s":"Test","x":19.0,"y":19.0},{"p":"F","s":"Test","x":19.5,"y":19.05},{"p":"F","s":"Test","x":19.8,"y":19.7},{"p":"F","s":"Test","x":20.4,"y":20.1},{"p":"F","s":"Test","x":21.4,"y":22.0},{"p":"F","s":"Test","x":21.9,"y":20.25},{"p":"F","s":"Test","x":22.2,"y":21.0},{"p":"F","s":"Test","x":22.5,"y":22.3},{"p":"F","s":"Test","x":22.85,"y":20.6},{"p":"F","s":"Test","x":23.15,"y":24.6},
{"p":"G","s":"Calibration","x":43.6,"y":43.0},{"p":"G","s":"Calibration","x":44.4,"y":43.5},{"p":"G","s":"Calibration","x":44.3,"y":45.1},{"p":"G","s":"Calibration","x":45.1,"y":45.0},{"p":"G","s":"Calibration","x":45.6,"y":45.1},{"p":"G","s":"Calibration","x":46.1,"y":45.5},{"p":"G","s":"Calibration","x":45.7,"y":45.9},{"p":"G","s":"Calibration","x":45.9,"y":46.8},{"p":"G","s":"Calibration","x":46.4,"y":46.5},{"p":"G","s":"Calibration","x":46.7,"y":46.9},{"p":"G","s":"Calibration","x":47.65,"y":47.5},{"p":"G","s":"Calibration","x":47.65,"y":53.0},{"p":"G","s":"Calibration","x":48.1,"y":48.5},{"p":"G","s":"Calibration","x":48.6,"y":48.8},{"p":"G","s":"Calibration","x":49.25,"y":49.2},{"p":"G","s":"Calibration","x":49.4,"y":50.9},{"p":"G","s":"Calibration","x":49.9,"y":49.7},{"p":"G","s":"Calibration","x":50.2,"y":49.7},{"p":"G","s":"Calibration","x":50.7,"y":50.4},{"p":"G","s":"Calibration","x":51.6,"y":50.75},{"p":"G","s":"Calibration","x":52.1,"y":51.4},{"p":"G","s":"Calibration","x":52.4,"y":51.8},{"p":"G","s":"Calibration","x":52.8,"y":51.95},{"p":"G","s":"Calibration","x":54.0,"y":52.5},
{"p":"G","s":"Test","x":43.9,"y":42.95},{"p":"G","s":"Test","x":45.0,"y":45.4},{"p":"G","s":"Test","x":45.6,"y":46.4},{"p":"G","s":"Test","x":45.7,"y":46.9},{"p":"G","s":"Test","x":46.0,"y":48.0},{"p":"G","s":"Test","x":46.1,"y":47.7},{"p":"G","s":"Test","x":47.3,"y":48.8},{"p":"G","s":"Test","x":47.5,"y":48.5},{"p":"G","s":"Test","x":48.5,"y":49.7},{"p":"G","s":"Test","x":48.8,"y":50.2},{"p":"G","s":"Test","x":49.0,"y":50.75},{"p":"G","s":"Test","x":49.25,"y":50.05},{"p":"G","s":"Test","x":49.5,"y":50.6},{"p":"G","s":"Test","x":49.7,"y":50.85},{"p":"G","s":"Test","x":50.0,"y":51.4},{"p":"G","s":"Test","x":50.3,"y":51.3},{"p":"G","s":"Test","x":50.6,"y":51.1},{"p":"G","s":"Test","x":51.0,"y":50.9},{"p":"G","s":"Test","x":51.3,"y":52.65},{"p":"G","s":"Test","x":52.1,"y":52.65},{"p":"G","s":"Test","x":52.6,"y":52.65},{"p":"G","s":"Test","x":52.6,"y":51.95},{"p":"G","s":"Test","x":52.9,"y":52.8},{"p":"G","s":"Test","x":54.5,"y":52.8},{"p":"G","s":"Test","x":54.7,"y":52.7},
{"p":"H","s":"Calibration","x":11.0,"y":10.85},{"p":"H","s":"Calibration","x":11.2,"y":10.85},{"p":"H","s":"Calibration","x":11.5,"y":12.4},{"p":"H","s":"Calibration","x":11.6,"y":11.7},{"p":"H","s":"Calibration","x":12.65,"y":12.6},{"p":"H","s":"Calibration","x":12.9,"y":13.0},{"p":"H","s":"Calibration","x":13.2,"y":16.2},{"p":"H","s":"Calibration","x":13.3,"y":13.35},{"p":"H","s":"Calibration","x":13.6,"y":13.9},{"p":"H","s":"Calibration","x":13.7,"y":13.95},{"p":"H","s":"Calibration","x":14.1,"y":14.2},{"p":"H","s":"Calibration","x":14.5,"y":14.5},{"p":"H","s":"Calibration","x":15.0,"y":15.4},{"p":"H","s":"Calibration","x":15.2,"y":15.5},{"p":"H","s":"Calibration","x":15.4,"y":15.2},{"p":"H","s":"Calibration","x":15.75,"y":15.9},{"p":"H","s":"Calibration","x":16.0,"y":16.0},{"p":"H","s":"Calibration","x":16.15,"y":15.7},{"p":"H","s":"Calibration","x":16.2,"y":16.3},{"p":"H","s":"Calibration","x":16.7,"y":16.5},{"p":"H","s":"Calibration","x":17.3,"y":16.7},{"p":"H","s":"Calibration","x":17.4,"y":17.0},
{"p":"H","s":"Test","x":11.7,"y":11.3},{"p":"H","s":"Test","x":11.8,"y":11.4},{"p":"H","s":"Test","x":12.6,"y":12.3},{"p":"H","s":"Test","x":12.6,"y":12.05},{"p":"H","s":"Test","x":12.65,"y":12.25},{"p":"H","s":"Test","x":13.45,"y":13.15},{"p":"H","s":"Test","x":13.6,"y":13.3},{"p":"H","s":"Test","x":13.7,"y":13.4},{"p":"H","s":"Test","x":13.85,"y":13.5},{"p":"H","s":"Test","x":13.9,"y":13.8},{"p":"H","s":"Test","x":14.0,"y":14.2},{"p":"H","s":"Test","x":14.2,"y":14.1},{"p":"H","s":"Test","x":14.4,"y":13.85},{"p":"H","s":"Test","x":14.5,"y":13.7},{"p":"H","s":"Test","x":14.5,"y":14.65},{"p":"H","s":"Test","x":14.95,"y":15.2},{"p":"H","s":"Test","x":15.0,"y":14.9},{"p":"H","s":"Test","x":15.2,"y":15.0},{"p":"H","s":"Test","x":15.3,"y":14.85},{"p":"H","s":"Test","x":15.35,"y":14.7},{"p":"H","s":"Test","x":16.2,"y":16.4},{"p":"H","s":"Test","x":16.4,"y":16.65},{"p":"H","s":"Test","x":17.7,"y":17.5}
]
},
"config": {
 "font": "Liberation Sans",
 "view": {"stroke": "#262626", "strokeWidth": 1.3},
 "axis": {"domain": false, "grid": false, "labelFont": "Liberation Sans", "labelFontWeight": "bold", "labelFontSize": 12, "labelColor": "#262626", "titleFont": "Liberation Sans", "titleFontWeight": "bold", "titleFontSize": 12, "titleColor": "#262626", "tickColor": "#262626", "tickSize": -4, "tickWidth": 1.2, "labelFlush": false, "labelOverlap": false, "labelBound": false, "titlePadding": 4},
 "axisX": {"labelPadding": 11},
 "axisY": {"labelPadding": 10}
}
}
